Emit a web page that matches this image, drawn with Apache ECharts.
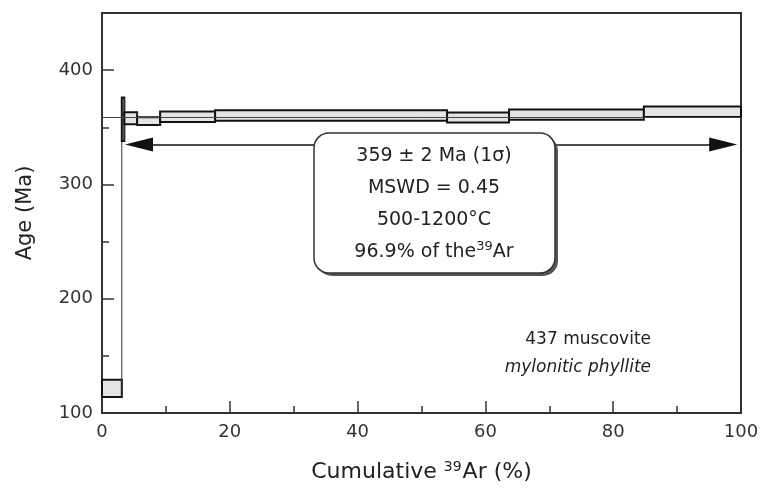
<!DOCTYPE html>
<html>
<head>
<meta charset="utf-8">
<script src="https://cdn.jsdelivr.net/npm/echarts@6/dist/echarts.min.js"></script>
<style>
    * { margin: 0; padding: 0; }
    body { background: #fff; }
    #chart { width: 765px; height: 492px; }
</style>
</head>
<body>
<div id="chart"></div>
<script>
    // step heating: cumulative 39Ar (%) and apparent age (Ma), 1 sigma
    var stepStart = [0, 3.1, 3.5, 5.5, 9.1, 17.7, 54.0, 63.7, 84.8];
    var stepEnd   = [3.1, 3.5, 5.5, 9.1, 17.7, 54.0, 63.7, 84.8, 100];
    var stepAge   = [121.5, 357, 357.9, 355.4, 359.2, 360.3, 358.6, 361.1, 363.6];
    var stepErr   = [7.5, 19, 5.3, 3.3, 4.6, 4.6, 4.4, 4.4, 4.6];

    var xLabels = [0, 20, 40, 60, 80, 100];
    var yLabels = [100, 200, 300, 400];

    // plateau age and the arrow under it (arrow tips)
    var plateauAge = 359;
    var arrowFrom = 3.6;
    var arrowTo = 99.4;
    var arrowAge = 335;

    var FONT = 'DejaVu Sans';
    var INK = '#222';

    // grid geometry, used to keep the arrow heads' tips on the ends
    var gridLeft = 102, gridRight = 24;
    var arrowLen = 28;
    var halfHead = (arrowLen / 2) / ((765 - gridLeft - gridRight) / 100);

    var stepData = stepStart.map(function (s, i) {
        return [s, stepEnd[i], stepAge[i], stepErr[i]];
    });

    function renderStep(params, api) {
        var i = params.dataIndex;
        var x0 = api.value(0), x1 = api.value(1);
        var age = api.value(2), err = api.value(3);
        var p0 = api.coord([x0, age + err]);
        var p1 = api.coord([x1, age - err]);
        var children = [{
            type: 'rect',
            shape: { x: p0[0], y: p0[1], width: p1[0] - p0[0], height: p1[1] - p0[1] },
            style: { fill: '#e4e4e4', stroke: '#111', lineWidth: 2 }
        }];
        // thin connector to the previous step
        if (i > 0) {
            var lo = Math.min(stepAge[i - 1] - stepErr[i - 1], age - err);
            var hi = Math.max(stepAge[i - 1] + stepErr[i - 1], age + err);
            var a = api.coord([x0, hi]);
            var b = api.coord([x0, lo]);
            children.unshift({
                type: 'line',
                shape: { x1: a[0], y1: a[1], x2: b[0], y2: b[1] },
                style: { stroke: '#333', lineWidth: 1 }
            });
        }
        return { type: 'group', children: children };
    }

    var tickText = { fontFamily: FONT, fontSize: 18, color: '#333' };
    var boxFont = '19px ' + FONT;

    var option = {
        animation: false,
        grid: {
            left: gridLeft, right: gridRight, top: 13, bottom: 79,
            show: true, borderColor: '#333', borderWidth: 2, backgroundColor: '#fff'
        },
        xAxis: [
            {
                type: 'value', min: 0, max: 100, interval: 10, position: 'bottom',
                name: 'Cumulative {sup|39}Ar (%)', nameLocation: 'middle', nameGap: 47,
                nameTextStyle: {
                    fontFamily: FONT, fontSize: 22, color: INK,
                    rich: { sup: { fontFamily: FONT, fontSize: 14, color: INK, padding: [0, 1, 10, 0] } }
                },
                axisLine: { lineStyle: { color: '#333', width: 2 } },
                axisTick: { inside: true, length: 7, lineStyle: { color: '#333', width: 1.5 } },
                axisLabel: Object.assign({
                    margin: 10,
                    formatter: function (v) { return xLabels.indexOf(v) >= 0 ? v : ''; }
                }, tickText),
                splitLine: { show: false }
            },
            {
                type: 'value', min: 0, max: 100, interval: 20, position: 'bottom',
                axisLine: { show: false },
                axisTick: { inside: true, length: 12, lineStyle: { color: '#333', width: 1.5 } },
                axisLabel: { show: false },
                splitLine: { show: false }
            }
        ],
        yAxis: [
            {
                type: 'value', min: 100, max: 450, interval: 50, position: 'left',
                name: 'Age (Ma)', nameLocation: 'middle', nameGap: 66, nameRotate: 90,
                nameTextStyle: { fontFamily: FONT, fontSize: 21, color: INK },
                axisLine: { lineStyle: { color: '#333', width: 2 } },
                axisTick: { inside: true, length: 7, lineStyle: { color: '#333', width: 1.5 } },
                axisLabel: Object.assign({
                    margin: 9,
                    formatter: function (v) { return yLabels.indexOf(v) >= 0 ? v : ''; }
                }, tickText),
                splitLine: { show: false }
            },
            {
                type: 'value', min: 100, max: 450, interval: 100, position: 'left',
                axisLine: { show: false },
                axisTick: { inside: true, length: 12, lineStyle: { color: '#333', width: 1.5 } },
                axisLabel: { show: false },
                splitLine: { show: false }
            }
        ],
        series: [
            {
                name: 'steps',
                type: 'custom',
                xAxisIndex: 0, yAxisIndex: 0,
                renderItem: renderStep,
                data: stepData,
                encode: { x: [0, 1], y: 2 },
                z: 3,
                markLine: {
                    silent: true,
                    symbol: 'none',
                    label: { show: false },
                    lineStyle: { color: '#444', width: 1, type: 'solid' },
                    data: [{ yAxis: plateauAge }]
                }
            },
            {
                name: 'plateau',
                type: 'line',
                xAxisIndex: 0, yAxisIndex: 0,
                data: [],
                markLine: {
                    silent: true,
                    symbol: ['triangle', 'triangle'],
                    symbolSize: [14, arrowLen],
                    label: { show: false },
                    lineStyle: { color: '#111', width: 1.5, type: 'solid' },
                    itemStyle: { color: '#111' },
                    data: [[
                        { coord: [arrowFrom + halfHead, arrowAge] },
                        { coord: [arrowTo - halfHead, arrowAge] }
                    ]]
                }
            }
        ],
        graphic: [
            {
                // drop shadow of the result box
                type: 'rect', z: 99,
                shape: { x: 317, y: 136, width: 241, height: 140, r: 15 },
                style: { fill: '#555' }
            },
            {
                type: 'rect', z: 100,
                shape: { x: 314, y: 133, width: 241, height: 140, r: 15 },
                style: { fill: '#fff', stroke: '#333', lineWidth: 1.5 }
            },
            {
                type: 'text', z: 101, x: 434, y: 156,
                style: { text: '359 ± 2 Ma (1σ)', align: 'center', verticalAlign: 'middle', font: boxFont, fill: INK }
            },
            {
                type: 'text', z: 101, x: 434, y: 188,
                style: { text: 'MSWD = 0.45', align: 'center', verticalAlign: 'middle', font: boxFont, fill: INK }
            },
            {
                type: 'text', z: 101, x: 434, y: 220,
                style: { text: '500-1200°C', align: 'center', verticalAlign: 'middle', font: boxFont, fill: INK }
            },
            {
                type: 'text', z: 101, x: 434, y: 252,
                style: {
                    text: '96.9% of the{sup|39}Ar', align: 'center', verticalAlign: 'middle',
                    font: boxFont, fill: INK,
                    rich: { sup: { fontSize: 13, fontFamily: FONT, fill: INK, padding: [0, 0, 10, 0] } }
                }
            },
            {
                type: 'text', z: 101, x: 651, y: 340,
                style: { text: '437 muscovite', align: 'right', verticalAlign: 'middle', font: '17px ' + FONT, fill: INK }
            },
            {
                type: 'text', z: 101, x: 651, y: 368,
                style: { text: 'mylonitic phyllite', align: 'right', verticalAlign: 'middle', font: 'italic 17px ' + FONT, fill: INK }
            }
        ]
    };

    var myChart = echarts.init(document.getElementById('chart'));
    myChart.setOption(option);
</script>
</body>
</html>
